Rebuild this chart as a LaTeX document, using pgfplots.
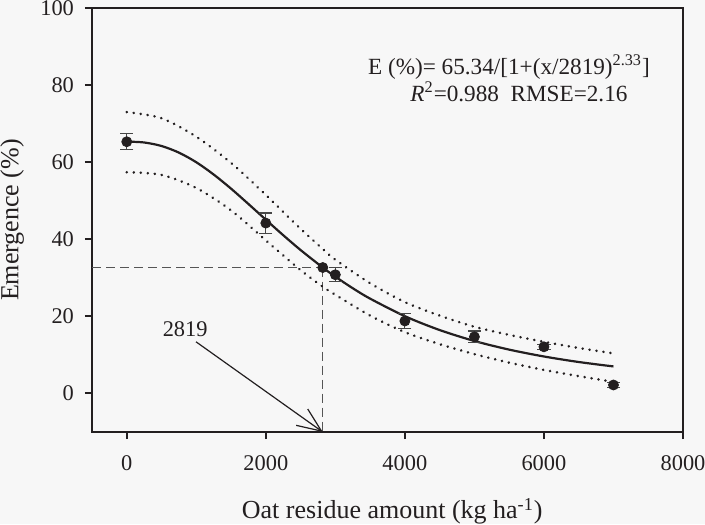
\documentclass[border=0pt]{standalone}
\usepackage{fontspec}
\setmainfont{Liberation Serif}
\usepackage{pgfplots}
\pgfplotsset{compat=1.18}
\usetikzlibrary{arrows.meta}

\definecolor{bg}{RGB}{247,247,247}
\definecolor{ink}{RGB}{35,31,32}
\definecolor{errc}{RGB}{70,70,70}
\definecolor{guide}{RGB}{85,85,85}

% observed means with standard errors
\pgfplotstableread{
x     y     e
0     65.3  2.1
2000  44.2  2.6
3000  30.8  1.85
4000  18.8  1.85
5000  14.7  1.5
6000  12.1  0.7
7000  2.2   0.6
}\obs

% fitted curve E = 65.34/[1+(x/2819)^2.33], tabulated
\pgfplotstableread{
x     y
0     65.34
250   65.11
500   64.20
750   62.48
1000  59.98
1250  56.80
1500  53.13
1750  49.15
2000  45.08
2250  41.06
2500  37.21
2819  32.67
3000  30.30
3250  27.30
3500  24.60
4000  20.04
4500  16.45
5000  13.61
5500  11.37
6000  9.59
6500  8.16
7000  7.01
}\fit

% 95% confidence bands
\pgfplotstableread{
x     up    lo
0     73.0  57.4
500   71.4  56.7
1000  66.6  53.3
1500  59.8  47.5
2000  51.5  39.7
2500  42.7  32.0
2819  37.5  27.7
3000  34.7  25.6
3500  28.6  20.2
4000  23.7  15.9
4500  20.2  12.8
5000  17.3  10.2
5500  15.2  8.0
6000  13.4  6.1
6500  11.8  4.5
7000  10.4  3.0
}\band

\begin{document}
\begin{tikzpicture}
\fill[bg] (0,0) rectangle (352.5pt,262pt);
\useasboundingbox (0,0) rectangle (352.5pt,262pt);
\begin{axis}[
    at={(46pt,46pt)}, anchor=south west,
    scale only axis, width=295.5pt, height=212pt,
    xmin=-500, xmax=8000, ymin=-10, ymax=100,
    xtick={0,2000,...,8000}, ytick={0,20,...,100},
    xtick pos=bottom, ytick pos=left,
    tick align=outside, major tick length=3.5pt,
    axis line style={ink, line width=1pt},
    every tick/.style={ink, line width=1pt},
    /pgf/number format/assume math mode=true,
    /pgf/number format/1000 sep={},
    tick label style={font=\fontsize{11.2}{13}\selectfont, text=ink},
    xticklabel style={yshift=-5pt},
    yticklabel style={xshift=-2pt},
    xlabel={Oat residue amount (kg ha\textsuperscript{-1})},
    ylabel={Emergence (\%)},
    label style={font=\fontsize{13}{15}\selectfont, text=ink},
    xlabel style={at={(axis description cs:0.508,-0.205)}, anchor=base},
    ylabel style={at={(axis description cs:-0.135,0.5)}, anchor=center},
    clip=false,
]
% guide lines at x50
\addplot[guide, line width=0.6pt, dash pattern=on 4.5pt off 2.5pt] coordinates {(-500,32.67) (2819,32.67)};
\addplot[guide, line width=0.6pt, dash pattern=on 4.5pt off 2.5pt] coordinates {(2819,32.67) (2819,-10)};

% confidence bands
\addplot[ink, line width=1.4pt, dash pattern=on 0.01pt off 3.5pt, line cap=round, smooth] table[x=x, y=up] {\band};
\addplot[ink, line width=1.4pt, dash pattern=on 0.01pt off 3.5pt, line cap=round, smooth] table[x=x, y=lo] {\band};

% fitted curve
\addplot[ink, line width=1.1pt, smooth] table[x=x, y=y] {\fit};

% observations
\addplot[only marks, mark=*, mark size=2.5pt, mark options={ink, fill=ink},
    error bars/.cd, y dir=both, y explicit,
    error bar style={errc, line width=0.6pt},
    error mark options={errc, rotate=90, mark size=3.3pt, line width=0.6pt}]
    table[x=x, y=y, y error=e] {\obs};
\addplot[only marks, mark=*, mark size=2.5pt, mark options={ink, fill=ink}] coordinates {(2819,32.67)};

% annotations
\node[anchor=base, font=\fontsize{11.6}{13}\selectfont, text=ink] at (axis cs:5497,82.76)
    {E (\%)= 65.34/[1+(x/2819)\textsuperscript{2.33}]};
\node[anchor=base, font=\fontsize{11.6}{13}\selectfont, text=ink] at (axis cs:5641,75.8)
    {\textit{R}\textsuperscript{2}=0.988\ \ RMSE=2.16};
\node[anchor=base, font=\fontsize{11.2}{13}\selectfont, text=ink] at (axis cs:840,14.7) {2819};
\draw[ink, line width=0.6pt, -{Straight Barb[length=12pt, width=10pt]}] (axis cs:996,13.4) -- (axis cs:2819,-10);
\end{axis}
\end{tikzpicture}
\end{document}
